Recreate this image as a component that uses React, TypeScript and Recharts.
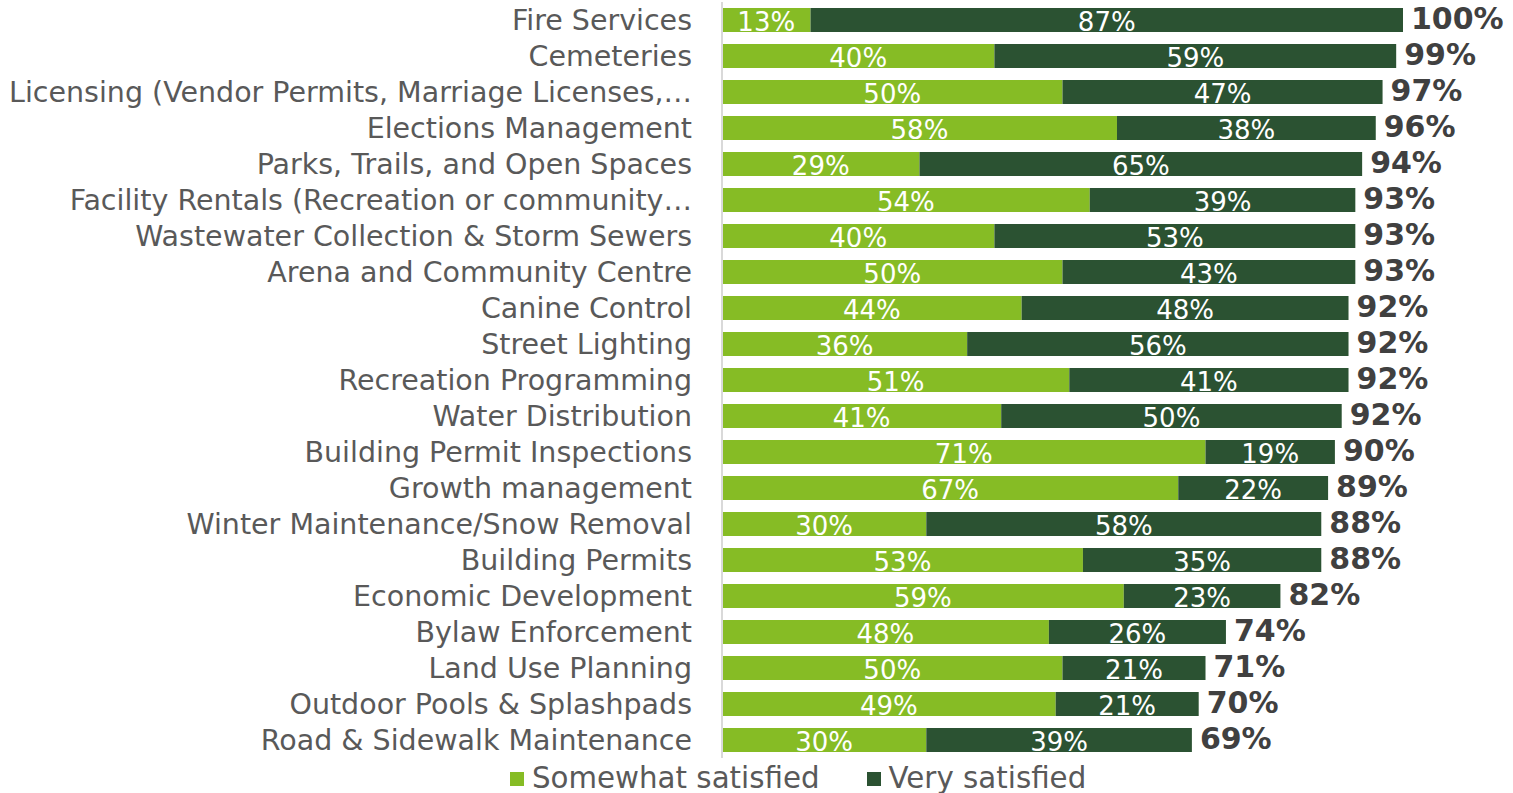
import { BarChart, Bar, XAxis, YAxis, Legend, LabelList } from "recharts";

const categories = [
  "Fire Services",
  "Cemeteries",
  "Licensing (Vendor Permits, Marriage Licenses,…",
  "Elections Management",
  "Parks, Trails, and Open Spaces",
  "Facility Rentals (Recreation or community…",
  "Wastewater Collection & Storm Sewers",
  "Arena and Community Centre",
  "Canine Control",
  "Street Lighting",
  "Recreation Programming",
  "Water Distribution",
  "Building Permit Inspections",
  "Growth management",
  "Winter Maintenance/Snow Removal",
  "Building Permits",
  "Economic Development",
  "Bylaw Enforcement",
  "Land Use Planning",
  "Outdoor Pools & Splashpads",
  "Road & Sidewalk Maintenance",
];

const somewhat = [13, 40, 50, 58, 29, 54, 40, 50, 44, 36, 51, 41, 71, 67, 30, 53, 59, 48, 50, 49, 30];
const very = [87, 59, 47, 38, 65, 39, 53, 43, 48, 56, 41, 50, 19, 22, 58, 35, 23, 26, 21, 21, 39];
const totals = [100, 99, 97, 96, 94, 93, 93, 93, 92, 92, 92, 92, 90, 89, 88, 88, 82, 74, 71, 70, 69];

const LIGHT = "#86BC25";
const DARK = "#2B5232";
const TEXT = "#595959";
const FONT = "'DejaVu Sans', Verdana, sans-serif";

// rows for recharts
const data = categories.map((name, i) => ({
  name,
  somewhat: somewhat[i],
  very: very[i],
  total: totals[i],
}));

const pct = (v: number | string) => `${v}%`;

// simple legend with square markers
const LegendContent = () => (
  <div
    style={{
      display: "flex",
      alignItems: "center",
      fontFamily: FONT,
      fontSize: 29.3,
      color: TEXT,
      height: 35,
      lineHeight: "35px",
      paddingLeft: 510,
      position: "relative",
      top: 3,
    }}
  >
    <span style={{ width: 14, height: 14, background: LIGHT, marginRight: 8, display: "inline-block" }} />
    <span style={{ marginRight: 47 }}>Somewhat satisfied</span>
    <span style={{ width: 14, height: 14, background: DARK, marginRight: 8, display: "inline-block" }} />
    <span>Very satisfied</span>
  </div>
);

export default function App() {
  return (
    <div style={{ position: "absolute", left: 0, top: 0, background: "#fff" }}>
      <BarChart
        width={1513}
        height={793}
        data={data}
        layout="vertical"
        barCategoryGap="16.5%"
        margin={{ top: 2, right: 110, left: 0, bottom: 0 }}
      >
        <XAxis type="number" domain={[0, 100]} hide />
        <YAxis
          type="category"
          dataKey="name"
          width={722}
          interval={0}
          tickLine={false}
          tickSize={0}
          tickMargin={30}
          axisLine={{ stroke: "#D9D9D9", strokeWidth: 2 }}
          tick={{ fontSize: 28.5, fill: TEXT, fontFamily: FONT }}
        />
        <Legend verticalAlign="bottom" align="left" content={<LegendContent />} />
        <Bar dataKey="somewhat" name="Somewhat satisfied" stackId="a" fill={LIGHT} isAnimationActive={false}>
          <LabelList
            dataKey="somewhat"
            position="center"
            formatter={pct}
            fill="#fff"
            fontSize={26}
            fontFamily={FONT}
            dy={2}
          />
        </Bar>
        <Bar dataKey="very" name="Very satisfied" stackId="a" fill={DARK} isAnimationActive={false}>
          <LabelList
            dataKey="very"
            position="center"
            formatter={pct}
            fill="#fff"
            fontSize={26}
            fontFamily={FONT}
            dy={2}
          />
          <LabelList
            dataKey="total"
            position="right"
            offset={8}
            formatter={pct}
            fill="#404040"
            fontSize={30}
            fontWeight="bold"
            fontFamily={FONT}
            dy={-2}
          />
        </Bar>
      </BarChart>
    </div>
  );
}
